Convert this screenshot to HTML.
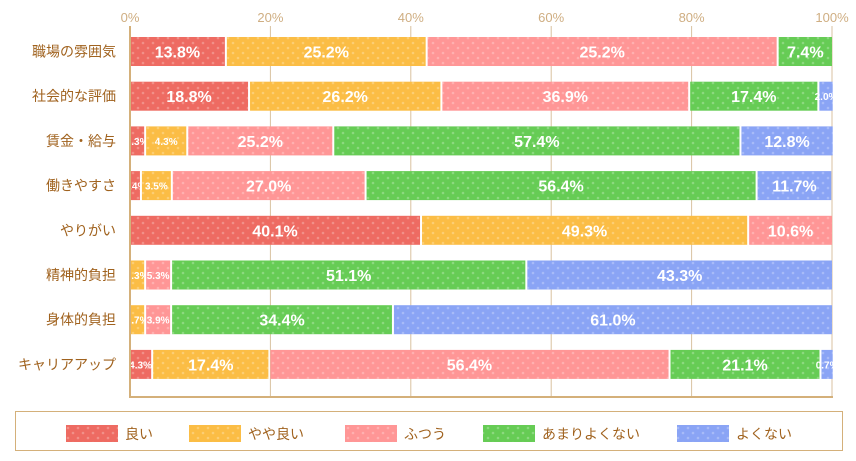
<!DOCTYPE html>
<html><head><meta charset="utf-8"><style>
body{margin:0;background:#fff;font-family:"Liberation Sans","Noto Sans CJK JP",sans-serif;}
svg text{font-family:"Liberation Sans","Noto Sans CJK JP",sans-serif;}
</style></head><body>
<svg id="chart" width="856" height="456" xmlns="http://www.w3.org/2000/svg">
<defs>
<pattern id="dots" width="10" height="10" patternUnits="userSpaceOnUse"><circle cx="3" cy="3" r="1.3" fill="#fff" opacity="0.25"/><circle cx="8" cy="8" r="1.3" fill="#fff" opacity="0.25"/></pattern>
</defs>
<g id="grid"></g>
<g id="bars"></g>
<g id="axis"></g>
<g id="legend"></g>
</svg>
<script>
const categories = ["職場の雰囲気","社会的な評価","賃金・給与","働きやすさ","やりがい","精神的負担","身体的負担","キャリアアップ"];
const seriesNames = ["良い","やや良い","ふつう","あまりよくない","よくない"];
const good      = [13.8, 17.1, 2.3, 1.7, 41.6, 0, 0, 3.3];
const fairGood  = [28.6, 27.4, 6.0, 4.4, 46.6, 2.3, 2.3, 16.7];
const neutral   = [50.0, 35.3, 20.8, 27.6, 11.8, 3.7, 3.7, 57.0];
const notGood   = [7.6, 18.4, 58.0, 55.7, 0, 50.6, 31.6, 21.5];
const bad       = [0, 1.9, 13.0, 10.5, 0, 43.4, 62.4, 1.6];
const labGood     = ["13.8","18.8","0.3","1.4","40.1","","","4.3"];
const labFairGood = ["25.2","26.2","4.3","3.5","49.3","0.3","0.7","17.4"];
const labNeutral  = ["25.2","36.9","25.2","27.0","10.6","5.3","3.9","56.4"];
const labNotGood  = ["7.4","17.4","57.4","56.4","","51.1","34.4","21.1"];
const labBad      = ["","2.0","12.8","11.7","","43.3","61.0","0.7"];
const ticks = [0,20,40,60,80,100];

const NS="http://www.w3.org/2000/svg";
const colors=["#ee6b62","#fbbd45","#ff9696","#66cc55","#8aa4f5"];
const series=[good,fairGood,neutral,notGood,bad];
const labels=[labGood,labFairGood,labNeutral,labNotGood,labBad];
const x0=130,x1=832;
const xs=v=>x0+(x1-x0)*v/100;
const rowTop=i=>37+i*44.7;
const BH=29;
function mk(tag,attrs,parent){const e=document.createElementNS(NS,tag);for(const k in attrs)e.setAttribute(k,attrs[k]);parent.appendChild(e);return e;}
const grid=document.getElementById('grid'),barsG=document.getElementById('bars'),axis=document.getElementById('axis'),leg=document.getElementById('legend');
ticks.forEach(t=>{
  const l=mk('line',{x1:xs(t),x2:xs(t),y1:26,y2:397,stroke:'#d9c2a0','stroke-width':1},grid);
  
  
  const tx=mk('text',{x:xs(t),y:22,'text-anchor':'middle','font-size':13,fill:'#cfae82'},grid);
  tx.textContent=t+'%';
  
  
});
categories.forEach((c,i)=>{
  const y=rowTop(i);
  const ct=mk('text',{x:116,y:y+BH/2+5,'text-anchor':'end','font-size':14,fill:'#a0621e'},axis);
  ct.textContent=c;
  
  
  let acc=0;
  series.forEach((s,k)=>{
    const v=s[i];
    if(v>0){
      const xa=xs(acc),xb=xs(acc+v);
      const w=Math.max(0,xb-xa-(acc+v<99.9?2:0));
      const r=mk('rect',{x:xa,y:y,width:w,height:BH,fill:colors[k]},barsG);
      
      
      mk('rect',{x:xa,y:y,width:w,height:BH,fill:'url(#dots)'},barsG);
      const lb=labels[k][i];
      if(lb){
        const small=w<45;
        const t=mk('text',{x:xa+w/2,y:y+BH/2+(small?4:6),'text-anchor':'middle','font-size':small?10:16,'font-weight':'bold',fill:'#fff'},barsG);
        if(small){t.setAttribute('stroke',colors[k]);t.setAttribute('stroke-width','0');t.setAttribute('style','paint-order:stroke;');t.setAttribute('fill','#fff');}
        t.textContent=lb+'%';
        
        
      }
    }
    acc+=v;
  });
});
const ax=mk('line',{x1:x0,x2:x0,y1:26,y2:397,stroke:'#d4b07a','stroke-width':2},axis);


const bx=mk('line',{x1:x0-1,x2:x1+1,y1:397,y2:397,stroke:'#d4b07a','stroke-width':2},axis);


const box=mk('rect',{x:15.5,y:411.5,width:827,height:39,fill:'none',stroke:'#d4b07a','stroke-width':1},leg);


const legX=[66,189,345,483,677];
seriesNames.forEach((n,k)=>{
  const sw=mk('rect',{x:legX[k],y:425,width:52,height:17,fill:colors[k]},leg);
  
  
  mk('rect',{x:legX[k],y:425,width:52,height:17,fill:'url(#dots)'},leg);
  const t=mk('text',{x:legX[k]+59,y:439,'font-size':14,fill:'#a0621e'},leg);
  t.textContent=n;
  
  
});
</script>
</body></html>
